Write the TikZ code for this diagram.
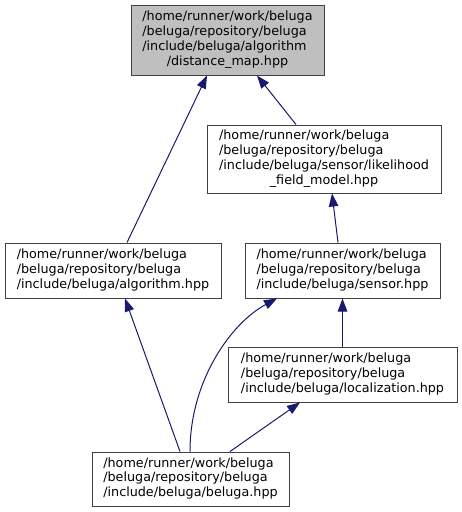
\documentclass[tikz,border=0pt]{standalone}
\usepackage{fontspec}
\setmainfont{DejaVu Sans}
\usetikzlibrary{arrows.meta}
\definecolor{edgeblue}{HTML}{191970}
\definecolor{boxline}{HTML}{404040}
\definecolor{boxfill}{HTML}{BFBFBF}
\begin{document}
\begin{tikzpicture}[x=1pt,y=-1pt,
  filebox/.style={draw=boxline, line width=1pt, inner sep=0pt, fill=white,
    font=\fontsize{12.75}{14.8}\selectfont},
  dep/.style={draw=edgeblue, line width=1pt, -{Triangle[length=13pt,width=9.5pt,fill=edgeblue]}}]
\useasboundingbox (0,0) rectangle (462,512);

\node[filebox, fill=boxfill, minimum width=193pt, minimum height=70pt] (dm) at (227.5,40)
  {\begin{tabular}{@{}l@{}}/home/runner/work/beluga\\/beluga/repository/beluga\\/include/beluga/algorithm\\\multicolumn{1}{@{}c@{}}{/distance\_map.hpp}\end{tabular}};

\node[filebox, minimum width=234pt, minimum height=68pt] (lik) at (324,159)
  {\begin{tabular}{@{}l@{}}/home/runner/work/beluga\\/beluga/repository/beluga\\/include/beluga/sensor/likelihood\\\multicolumn{1}{@{}c@{}}{\_field\_model.hpp}\end{tabular}};

\node[filebox, minimum width=216pt, minimum height=55pt] (alg) at (113,270.5)
  {\begin{tabular}{@{}l@{}}/home/runner/work/beluga\\/beluga/repository/beluga\\/include/beluga/algorithm.hpp\end{tabular}};

\node[filebox, minimum width=195pt, minimum height=55pt] (sen) at (342.5,270.5)
  {\begin{tabular}{@{}l@{}}/home/runner/work/beluga\\/beluga/repository/beluga\\/include/beluga/sensor.hpp\end{tabular}};

\node[filebox, minimum width=229pt, minimum height=55pt] (loc) at (342.5,374.5)
  {\begin{tabular}{@{}l@{}}/home/runner/work/beluga\\/beluga/repository/beluga\\/include/beluga/localization.hpp\end{tabular}};

\node[filebox, minimum width=197pt, minimum height=54pt] (bel) at (190.5,479)
  {\begin{tabular}{@{}l@{}}/home/runner/work/beluga\\/beluga/repository/beluga\\/include/beluga/beluga.hpp\end{tabular}};

\draw[dep] ([xshift=14pt]alg.north) -- ([xshift=-20.5pt]dm.south);
\draw[dep] ([xshift=-28pt]lik.north) -- ([xshift=29.5pt]dm.south);
\draw[dep] ([xshift=-4.5pt]sen.north) -- ([xshift=8pt]lik.south);
\draw[dep] (loc.north) -- (sen.south);
\draw[dep] ([xshift=-10.5pt]bel.north) -- ([xshift=12pt]alg.south);
\draw[dep] ([xshift=-0.5pt]bel.north) .. controls +(0,-72) and +(-45,24) .. ([xshift=-65.5pt]sen.south);
\draw[dep] ([xshift=39.5pt]bel.north) -- ([xshift=-42.5pt]loc.south);
\end{tikzpicture}
\end{document}
